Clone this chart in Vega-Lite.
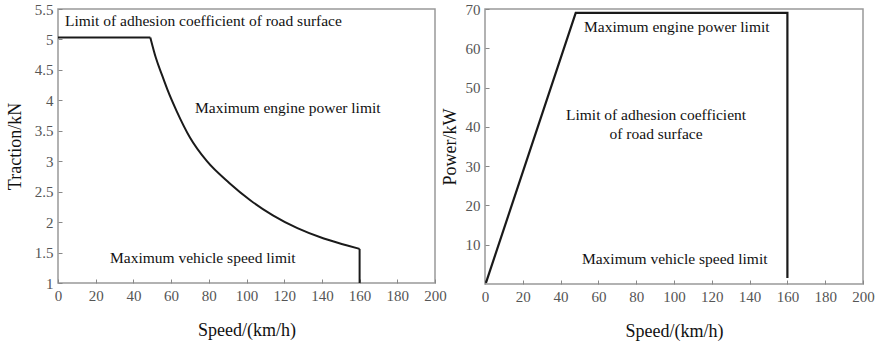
{
  "$schema": "https://vega.github.io/schema/vega-lite/v6.json",
  "padding": {"left": 5, "top": 1, "right": 0, "bottom": 0},
  "background": "white",
  "spacing": 50,
  "bounds": "flush",
  "config": {
    "view": {"stroke": "#999999", "strokeWidth": 1.5},
    "axis": {
      "domain": false, "grid": false, "tickSize": -4, "tickColor": "#888888", "labelPadding": 9,
      "labelFont": "Liberation Serif", "labelFontSize": 15, "labelColor": "#555555", "labelFlush": false, "labelOverlap": false,
      "titleFont": "Liberation Serif", "titleFontSize": 18, "titleFontWeight": "normal", "titleColor": "#111111"
    },
    "text": {"font": "Liberation Serif", "fontSize": 15.5, "color": "#111111"}
  },
  "datasets": {
    "traction": [
      {"seg": "flat", "i": 1, "speed": 0, "traction": 5.03},
      {"seg": "flat", "i": 2, "speed": 49, "traction": 5.03},
      {"seg": "curve", "i": 3, "speed": 49, "traction": 5.03},
      {"seg": "curve", "i": 4, "speed": 52, "traction": 4.69},
      {"seg": "curve", "i": 5, "speed": 55, "traction": 4.43},
      {"seg": "curve", "i": 6, "speed": 58, "traction": 4.18},
      {"seg": "curve", "i": 7, "speed": 63, "traction": 3.82},
      {"seg": "curve", "i": 8, "speed": 70, "traction": 3.39},
      {"seg": "curve", "i": 9, "speed": 79, "traction": 3.0},
      {"seg": "curve", "i": 10, "speed": 91, "traction": 2.64},
      {"seg": "curve", "i": 11, "speed": 102, "traction": 2.36},
      {"seg": "curve", "i": 12, "speed": 114, "traction": 2.11},
      {"seg": "curve", "i": 13, "speed": 127, "traction": 1.9},
      {"seg": "curve", "i": 14, "speed": 141, "traction": 1.73},
      {"seg": "curve", "i": 15, "speed": 153, "traction": 1.62},
      {"seg": "curve", "i": 16, "speed": 160, "traction": 1.56},
      {"seg": "drop", "i": 17, "speed": 160, "traction": 1.56},
      {"seg": "drop", "i": 18, "speed": 160, "traction": 1.0}
    ],
    "tractionText": [
      {"speed": 3.7, "traction": 5.3, "label": "Limit of adhesion coefficient of road surface"},
      {"speed": 72.7, "traction": 3.87, "label": "Maximum engine power limit"},
      {"speed": 27.6, "traction": 1.41, "label": "Maximum vehicle speed limit"}
    ],
    "power": [
      {"i": 1, "speed": 0.5, "power": 0.3},
      {"i": 2, "speed": 48, "power": 69},
      {"i": 3, "speed": 160, "power": 69},
      {"i": 4, "speed": 160, "power": 1.5}
    ],
    "powerTextLeft": [
      {"speed": 52.4, "power": 65.4, "label": "Maximum engine power limit"},
      {"speed": 51.3, "power": 6.4, "label": "Maximum vehicle speed limit"}
    ],
    "powerTextCenter": [
      {"speed": 90.5, "power": 43, "label": "Limit of adhesion coefficient"},
      {"speed": 90.5, "power": 38.2, "label": "of road surface"}
    ]
  },
  "hconcat": [
    {
      "width": 377,
      "height": 274,
      "encoding": {
        "x": {"field": "speed", "type": "quantitative", "scale": {"domain": [0, 200], "nice": false},
              "axis": {"values": [0, 20, 40, 60, 80, 100, 120, 140, 160, 180, 200], "title": "Speed/(km/h)", "titlePadding": 18, "labelOverlap": false}},
        "y": {"field": "traction", "type": "quantitative", "scale": {"domain": [1, 5.5], "nice": false, "zero": false},
              "axis": {"values": [1, 1.5, 2, 2.5, 3, 3.5, 4, 4.5, 5, 5.5], "format": "~g", "title": "Traction/kN", "titlePadding": 10, "labelOverlap": false}}
      },
      "layer": [
        {
          "data": {"name": "traction"},
          "transform": [{"filter": "datum.seg !== 'curve'"}],
          "mark": {"type": "line", "color": "#1a1a1a", "strokeWidth": 2},
          "encoding": {"order": {"field": "i", "type": "quantitative"}, "detail": {"field": "seg", "type": "nominal"}}
        },
        {
          "data": {"name": "traction"},
          "transform": [{"filter": "datum.seg === 'curve'"}],
          "mark": {"type": "line", "color": "#1a1a1a", "strokeWidth": 2, "interpolate": "monotone"},
          "encoding": {"order": {"field": "i", "type": "quantitative"}}
        },
        {
          "data": {"name": "tractionText"},
          "mark": {"type": "text", "align": "left", "baseline": "middle"},
          "encoding": {"text": {"field": "label"}}
        }
      ]
    },
    {
      "width": 378,
      "height": 275,
      "encoding": {
        "x": {"field": "speed", "type": "quantitative", "scale": {"domain": [0, 200], "nice": false},
              "axis": {"values": [0, 20, 40, 60, 80, 100, 120, 140, 160, 180, 200], "title": "Speed/(km/h)", "titlePadding": 18, "labelOverlap": false}},
        "y": {"field": "power", "type": "quantitative", "scale": {"domain": [0, 70], "nice": false},
              "axis": {"values": [10, 20, 30, 40, 50, 60, 70], "title": "Power/kW", "titlePadding": 6, "labelOverlap": false}}
      },
      "layer": [
        {
          "data": {"name": "power"},
          "mark": {"type": "line", "color": "#1a1a1a", "strokeWidth": 2.2},
          "encoding": {"order": {"field": "i", "type": "quantitative"}}
        },
        {
          "data": {"name": "powerTextLeft"},
          "mark": {"type": "text", "align": "left", "baseline": "middle"},
          "encoding": {"text": {"field": "label"}}
        },
        {
          "data": {"name": "powerTextCenter"},
          "mark": {"type": "text", "align": "center", "baseline": "middle"},
          "encoding": {"text": {"field": "label"}}
        }
      ]
    }
  ]
}
